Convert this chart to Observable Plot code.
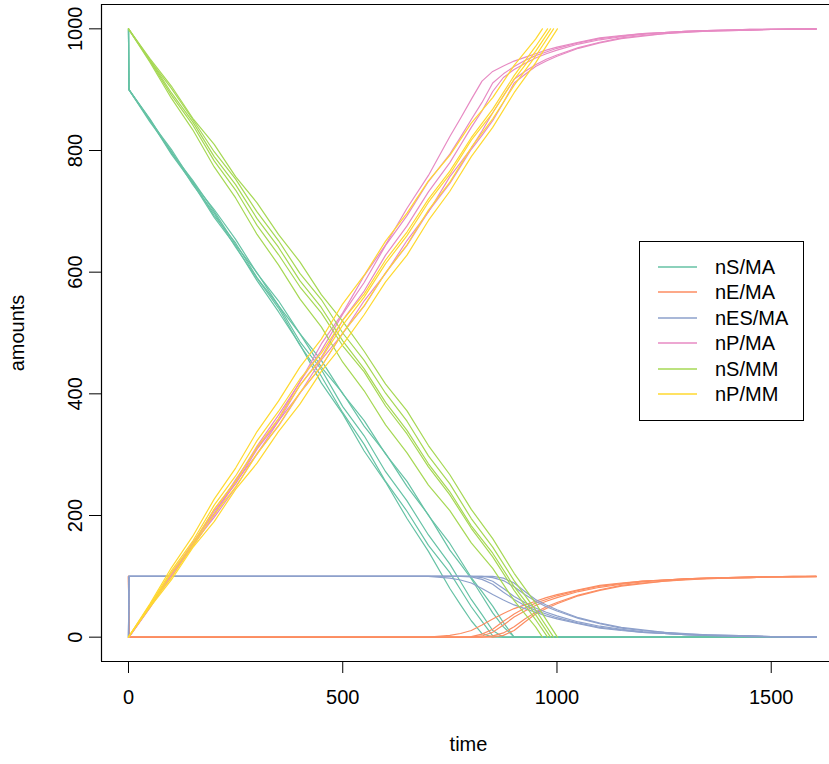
<!DOCTYPE html>
<html><head><meta charset="utf-8">
<script src="https://cdn.jsdelivr.net/npm/d3@7"></script>
<script src="https://cdn.jsdelivr.net/npm/@observablehq/plot@0.6"></script>
<style>
html,body{margin:0;padding:0;background:#fff;overflow:hidden;}
#wrap{position:relative;width:829px;height:764px;}
#legend{position:absolute;left:639px;top:241px;width:165px;height:180px;box-sizing:border-box;border:1px solid #000;background:#fff;font:20px "Liberation Sans",Arial,sans-serif;color:#000;}
#legend .row{position:absolute;left:0;width:100%;height:24px;}
#legend svg{position:absolute;left:18px;top:10px;}
#legend .lb{position:absolute;left:75px;top:0;line-height:24px;white-space:nowrap;}
</style></head>
<body><div id="wrap"></div>
<script>
// ---- tick labels / domains ----
const xTicks = [0, 500, 1000, 1500];
const yTicks = [0, 200, 400, 600, 800, 1000];
const xDomain = [-63, 1636];
const yDomain = [-40, 1040];

// ---- series ----
const seriesNames = ["nS/MA", "nE/MA", "nES/MA", "nP/MA", "nS/MM", "nP/MM"];
const seriesColors = ["#66C2A5", "#FC8D62", "#8DA0CB", "#E78AC3", "#A6D854", "#FFD92F"];

// mass-action model: sample times (shared by its 5 runs)
const tMA = [0,1,50,100,150,200,250,300,350,400,450,500,550,600,650,700,750,775,800,825,850,875,900,925,950,975,1000,1050,1100,1150,1200,1250,1300,1350,1400,1450,1500,1550,1605];

const nS_MA = [
  [1000,900,850,794,746,690,643,586,535,481,418,367,306,255,195,141,80,53,27,6,0,0,0,0,0,0,0,0,0,0,0,0,0,0,0,0,0,0,0],
  [1000,900,847,799,744,697,641,590,541,480,429,369,317,256,207,151,106,78,50,26,2,0,0,0,0,0,0,0,0,0,0,0,0,0,0,0,0,0,0],
  [1000,900,851,796,749,693,648,591,545,486,440,379,331,272,224,168,120,91,62,37,11,0,0,0,0,0,0,0,0,0,0,0,0,0,0,0,0,0,0],
  [1000,900,852,797,751,700,645,599,545,499,444,401,347,302,248,201,143,120,96,68,40,17,0,0,0,0,0,0,0,0,0,0,0,0,0,0,0,0,0],
  [1000,900,849,802,747,703,654,598,553,499,455,400,356,301,256,200,154,126,98,75,51,24,0,0,0,0,0,0,0,0,0,0,0,0,0,0,0,0,0]
];
const nE_MA = [
  [100,0,0,0,0,0,0,0,0,0,0,0,0,0,0,0,3,6,11,20,30,39,47,53,59,65,70,78,85,89,92,94,96,97,98,99,99,100,100],
  [100,0,0,0,0,0,0,0,0,0,0,0,0,0,0,0,0,0,1,5,13,26,38,48,56,62,68,77,84,88,92,94,96,97,98,99,99,99,100],
  [100,0,0,0,0,0,0,0,0,0,0,0,0,0,0,0,0,0,0,2,8,20,33,43,52,59,65,75,82,87,91,94,96,97,98,98,99,100,100],
  [100,0,0,0,0,0,0,0,0,0,0,0,0,0,0,0,0,0,0,0,2,7,17,30,41,50,57,69,78,85,89,92,95,96,97,98,99,99,100],
  [100,0,0,0,0,0,0,0,0,0,0,0,0,0,0,0,0,0,0,0,0,3,11,25,38,47,55,68,77,84,88,92,94,96,97,98,99,99,99]
];
const nES_MA = [
  [0,100,100,100,100,100,100,100,100,100,100,100,100,100,100,100,97,94,89,80,70,61,53,47,41,35,30,22,15,11,8,6,4,3,2,1,1,0,0],
  [0,100,100,100,100,100,100,100,100,100,100,100,100,100,100,100,100,100,99,95,87,74,62,52,44,38,32,23,16,12,8,6,4,3,2,1,1,1,0],
  [0,100,100,100,100,100,100,100,100,100,100,100,100,100,100,100,100,100,100,98,92,80,67,57,48,41,35,25,18,13,9,6,4,3,2,2,1,0,0],
  [0,100,100,100,100,100,100,100,100,100,100,100,100,100,100,100,100,100,100,100,98,93,83,70,59,50,43,31,22,15,11,8,5,4,3,2,1,1,0],
  [0,100,100,100,100,100,100,100,100,100,100,100,100,100,100,100,100,100,100,100,100,97,89,75,62,53,45,32,23,16,12,8,6,4,3,2,1,1,1]
];
const nP_MA = [
  [0,0,50,106,154,210,257,314,365,419,482,533,594,645,705,759,823,853,884,914,930,939,947,953,959,965,970,978,985,989,992,994,996,997,998,999,999,1000,1000],
  [0,0,53,101,156,203,259,310,359,420,471,531,583,644,693,749,794,822,851,879,911,926,938,948,956,962,968,977,984,988,992,994,996,997,998,999,999,999,1000],
  [0,0,49,104,151,207,252,309,355,414,460,521,569,628,676,732,780,809,838,865,897,920,933,943,952,959,965,975,982,987,991,994,996,997,998,998,999,1000,1000],
  [0,0,48,103,149,200,255,301,355,401,456,499,553,598,652,699,757,780,804,832,862,890,917,930,941,950,957,969,978,985,989,992,995,996,997,998,999,999,1000],
  [0,0,51,98,153,197,246,302,347,401,445,500,544,599,644,700,746,774,802,825,849,879,911,925,938,947,955,968,977,984,988,992,994,996,997,998,999,999,999]
];

// Michaelis-Menten model: shared sample times, then each run's end time
const tMM = [0,50,100,150,200,250,300,350,400,450,500,550,600,650,700,750,800,850,900,950];
const endMM = [1001, 992, 985, 978, 966];
const nS_MM = [
  [1000,951,906,853,810,757,714,662,617,563,519,470,416,372,315,267,210,162,105,56,0],
  [1000,948,902,851,798,753,699,652,598,555,500,455,401,355,298,252,195,148,93,45,0],
  [1000,949,895,847,790,744,688,641,586,542,487,441,386,340,285,239,183,138,83,37,0],
  [1000,947,891,842,783,735,677,629,576,533,479,436,380,334,280,234,179,132,77,29,0],
  [1000,945,886,834,773,722,662,612,556,510,452,405,349,303,250,208,155,113,60,17,0]
];
const nP_MM = [
  [0,49,94,147,190,243,286,338,383,437,481,530,584,628,685,733,790,838,895,944,1000],
  [0,52,98,149,202,247,301,348,402,445,500,545,599,645,702,748,805,852,907,955,1000],
  [0,51,105,153,210,256,312,359,414,458,513,559,614,660,715,761,817,862,917,963,1000],
  [0,53,109,158,217,265,323,371,424,467,521,564,620,666,720,766,821,868,923,971,1000],
  [0,55,114,166,227,278,338,388,444,490,548,595,651,697,750,792,845,887,940,983,1000]
];

// ---- build long table ----
const rows = [];
function addSeries(name, runs, timeOf) {
  runs.forEach((vals, k) => vals.forEach((v, i) =>
    rows.push({series: name, key: name + "#" + k, t: timeOf(i, k), v})));
}
const maTime = (i) => tMA[i];
const mmTime = (i, k) => (i < tMM.length ? tMM[i] : endMM[k]);
addSeries("nS/MA", nS_MA, maTime);
addSeries("nE/MA", nE_MA, maTime);
addSeries("nES/MA", nES_MA, maTime);
addSeries("nP/MA", nP_MA, maTime);
addSeries("nS/MM", nS_MM, mmTime);
addSeries("nP/MM", nP_MM, mmTime);

const FONT = '"Liberation Sans", Arial, Helvetica, sans-serif';

const chart = Plot.plot({
  width: 829,
  height: 764,
  marginLeft: 101,
  marginRight: 0,
  marginTop: 4,
  marginBottom: 103,
  style: {fontFamily: FONT, fontSize: "20px", background: "#fff", color: "#000", overflow: "hidden"},
  x: {domain: xDomain},
  y: {domain: yDomain},
  color: {domain: seriesNames, range: seriesColors},
  marks: [
    Plot.line(rows, {x: "t", y: "v", z: "key", stroke: "series", strokeWidth: 1.2}),
    Plot.ruleX([xDomain[0]], {stroke: "#000", strokeWidth: 1.2}),
    Plot.ruleY(yDomain, {stroke: "#000", strokeWidth: 1.2}),
    Plot.axisX(xTicks, {tickSize: 12, tickPadding: 16, label: null, tickFormat: (d) => String(d)}),
    Plot.axisY(yTicks, {tickSize: 12, tickRotate: -90, tickPadding: 8, label: null, tickFormat: (d) => String(d)}),
    Plot.text(["time"], {text: (d) => d, frameAnchor: "bottom", textAnchor: "middle", dx: 3, dy: 89}),
    Plot.text(["amounts"], {text: (d) => d, frameAnchor: "left", textAnchor: "middle", dx: -84, rotate: -90})
  ]
});
const wrap = document.getElementById("wrap");
wrap.appendChild(chart);

// legend (HTML overlay)
const SVGNS = "http://www.w3.org/2000/svg";
const legend = document.createElement("div");
legend.id = "legend";
seriesNames.forEach((n, i) => {
  const row = document.createElement("div");
  row.className = "row";
  row.style.top = (12.7 + i * 25.5) + "px";
  const sw = document.createElementNS(SVGNS, "svg");
  sw.setAttribute("width", "40");
  sw.setAttribute("height", "4");
  const ln = document.createElementNS(SVGNS, "line");
  ln.setAttribute("x1", "0"); ln.setAttribute("x2", "39");
  ln.setAttribute("y1", "2"); ln.setAttribute("y2", "2");
  ln.setAttribute("stroke", seriesColors[i]);
  ln.setAttribute("stroke-width", "1.4");
  sw.appendChild(ln);
  const lb = document.createElement("span");
  lb.className = "lb";
  lb.textContent = n;
  row.appendChild(sw);
  row.appendChild(lb);
  legend.appendChild(row);
});
wrap.appendChild(legend);
</script>
</body></html>
